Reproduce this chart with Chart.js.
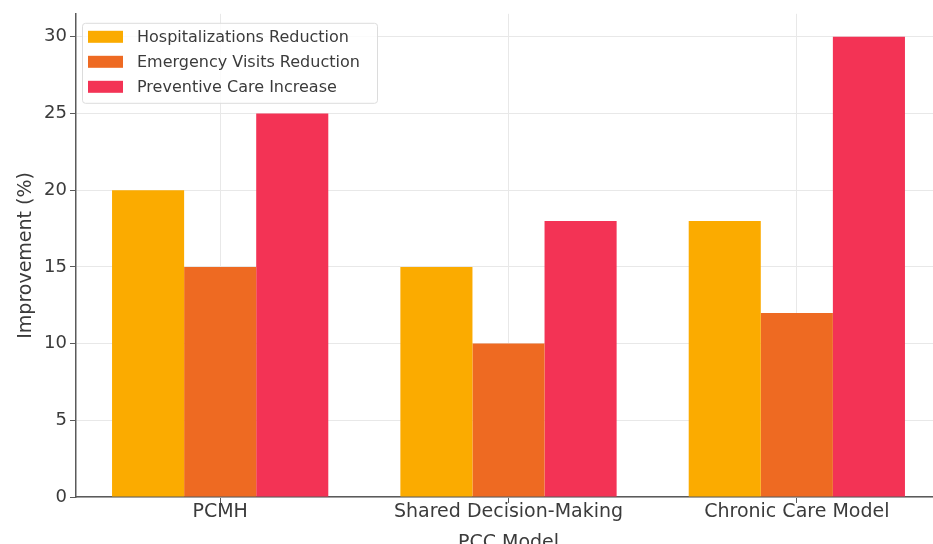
<!DOCTYPE html>
<html>
<head>
<meta charset="utf-8">
<script src="https://cdn.jsdelivr.net/npm/chart.js@4.4.1/dist/chart.umd.min.js"></script>
<style>
  html, body { margin:0; padding:0; background:#fff; overflow:hidden; }
  #wrap { width:933px; height:544px; overflow:hidden; }
  canvas { display:block; }
</style>
</head>
<body>
<div id="wrap"><canvas id="chart" width="945" height="544"></canvas></div>
<script>
const models = ['PCMH', 'Shared Decision-Making', 'Chronic Care Model'];
const hospitalizations = [20, 15, 18];
const emergencyVisits = [15, 10, 12];
const preventiveCare = [25, 18, 30];
const yTicks = [0, 5, 10, 15, 20, 25, 30];

const FONT = '"DejaVu Sans", sans-serif';
const TEXT = '#3b3b3b';
const AXIS = '#5a5a5a';
const GRID = '#e8e8e8';

// legend box drawn inside the plot, upper left (matplotlib look)
const boxLegend = {
  id:'boxLegend',
  afterDraw(chart){
    const {ctx, chartArea:a} = chart;
    const x = a.left + 6, y = a.top + 9, w = 295, h = 80;
    ctx.save();
    ctx.fillStyle = 'rgba(255,255,255,0.8)';
    ctx.strokeStyle = '#dcdcdc';
    ctx.lineWidth = 1;
    ctx.beginPath();
    ctx.roundRect(x + 0.5, y + 0.5, w, h, 3);
    ctx.fill(); ctx.stroke();
    ctx.font = `16px ${FONT}`;
    ctx.textBaseline = 'middle';
    chart.data.datasets.forEach((ds, i)=>{
      const cy = y + 14 + i*25;
      ctx.fillStyle = ds.backgroundColor;
      ctx.fillRect(x + 6, cy - 6, 35, 12);
      ctx.fillStyle = TEXT;
      ctx.fillText(ds.label, x + 55, cy + 1);
    });
    ctx.restore();
  }
};

new Chart(document.getElementById('chart'), {
  type:'bar',
  data:{
    labels: models,
    datasets:[
      { label:'Hospitalizations Reduction', data:hospitalizations, backgroundColor:'#fbab00' },
      { label:'Emergency Visits Reduction', data:emergencyVisits, backgroundColor:'#ee6a22' },
      { label:'Preventive Care Increase', data:preventiveCare, backgroundColor:'#f33355' },
    ]
  },
  options:{
    responsive:false,
    animation:false,
    layout:{ padding:{ left:0, right:4, top:12, bottom:0 } },
    datasets:{ bar:{ categoryPercentage:0.75, barPercentage:1, borderWidth:0 } },
    plugins:{ legend:{ display:false }, tooltip:{ enabled:false } },
    scales:{
      x:{
        offset:true,
        grid:{ offset:false, color:GRID, lineWidth:1, tickLength:6, tickColor:AXIS },
        border:{ display:true, color:AXIS, width:1.5 },
        ticks:{ font:{ family:FONT, size:19 }, color:TEXT, padding:-2, maxRotation:0 },
        title:{ display:true, text:'PCC Model', font:{ family:FONT, size:19 }, color:TEXT, padding:{ top:0, bottom:-10 } },
        afterFit(s){ s.height = 47; }
      },
      y:{
        min:0, max:31.5,
        grid:{ color:GRID, lineWidth:1, tickLength:6, tickColor:AXIS },
        border:{ display:true, color:AXIS, width:1.5 },
        ticks:{ stepSize:5, font:{ family:FONT, size:18 }, color:TEXT, padding:3 },
        afterBuildTicks(s){ s.ticks = yTicks.map(v=>({ value:v })); },
        title:{ display:true, text:'Improvement (%)', font:{ family:FONT, size:19 }, color:TEXT, padding:{ top:15, bottom:0 } },
        afterFit(s){ s.width = 76; }
      }
    }
  },
  plugins:[boxLegend]
});
</script>
</body>
</html>
